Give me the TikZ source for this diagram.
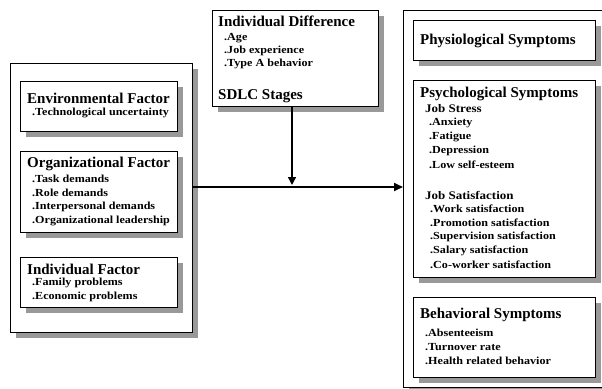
\documentclass[tikz,border=0pt]{standalone}
\usepackage{fontspec}
\setmainfont{Liberation Serif}
\newfontfamily\itemfont[FakeStretch=1.12]{Liberation Serif}
\usetikzlibrary{arrows.meta}

\tikzset{
    box/.style = {draw, line width=0.8pt, fill=white, inner sep=0pt, anchor=north west},
    boxshadow/.style = {fill={rgb,255:red,153;green,153;blue,153}, draw=none, inner sep=0pt, anchor=north west},
    head/.style = {anchor=west, inner sep=0pt, font=\bfseries\fontsize{15}{16}\selectfont},
    item/.style = {anchor=west, inner sep=0pt, font=\itemfont\bfseries\fontsize{10.8}{11}\selectfont},
    sub/.style = {item, font=\itemfont\bfseries\fontsize{11.6}{12}\selectfont},
}
% box with its shadow: name, x, y, width, height
\newcommand{\boxat}[5]{
    \node[boxshadow, minimum width=#4pt, minimum height=#5pt] (#1s) at (#2+6,#3+6) {};
    \node[box, minimum width=#4pt, minimum height=#5pt] (#1) at (#2,#3) {};}

\begin{document}
\begin{tikzpicture}[x=1pt, y=-1pt]
        \useasboundingbox (0,0) rectangle (602,388);
        \begin{scope}
            \clip (0,0) rectangle (602,388);
            % outer boxes
            \boxat{lbox}{10}{63}{182}{269}
            \boxat{rbox}{403}{10}{250}{377}
        \end{scope}
        % left side
        \boxat{env}{20}{81}{157}{50}
        \node[head] (envh) at (27,98) {Environmental Factor};
        \node[item] at (32,113) {.Technological uncertainty};
        \boxat{org}{20}{151}{157}{81}
        \node[head] (orgh) at (27,164) {Organizational Factor};
        \foreach \t [count=\i] in {Task demands, Role demands, Interpersonal demands, Organizational leadership}
            \node[item] at (32,165+14*\i) {.\t};
        \boxat{ind}{20}{257}{157}{50}
        \node[head] (indh) at (27,269) {Individual Factor};
        \node[item] at (32,283) {.Family problems};
        \node[item] at (32,297) {.Economic problems};
        % middle
        \boxat{diff}{212}{10}{166}{96}
        \node[head] (diffh) at (218,21) {Individual Difference};
        \foreach \t [count=\i] in {Age, Job experience, Type A behavior}
            \node[item] at (224,25+13*\i) {.\t};
        \node[head] (sdlc) at (218,96) {SDLC Stages};
        % right side
        \begin{scope}
            \clip (0,0) rectangle (602,388);
            \boxat{phys}{413}{20}{182}{40}
            \boxat{psych}{413}{80}{182}{197}
            \boxat{behav}{413}{297}{182}{80}
        \end{scope}
        \node[head] (physh) at (420,41) {Physiological Symptoms};
        \node[head] (psychh) at (420,94) {Psychological Symptoms};
        \node[sub] (stress) at (425,109) {Job Stress};
        \foreach \t [count=\i] in {Anxiety, Fatigue, Depression, Low self-esteem}
            \node[item] at (429,109+14*\i) {.\t};
        \node[sub] (sat) at (425,195) {Job Satisfaction};
        \foreach \t [count=\i] in {Work satisfaction, Promotion satisfaction, Supervision satisfaction, Salary satisfaction, Co-worker satisfaction}
            \node[item] at (430,195+14*\i) {.\t};
        \node[head] (behavh) at (420,315) {Behavioral Symptoms};
        \foreach \t [count=\i] in {Absenteeism, Turnover rate, Health related behavior}
            \node[item] at (425,319+14*\i) {.\t};
        % connectors
        \coordinate (join) at (292,187);
        \draw[line width=2pt, -{Triangle[length=9pt,width=8pt]}] (lbox.east |- join) -- (rbox.west |- join);
        \draw[line width=1.4pt, -{Triangle[length=8pt,width=8pt]}] (diff.south -| join) -- ([yshift=2pt]join);
    \end{tikzpicture}
\end{document}
